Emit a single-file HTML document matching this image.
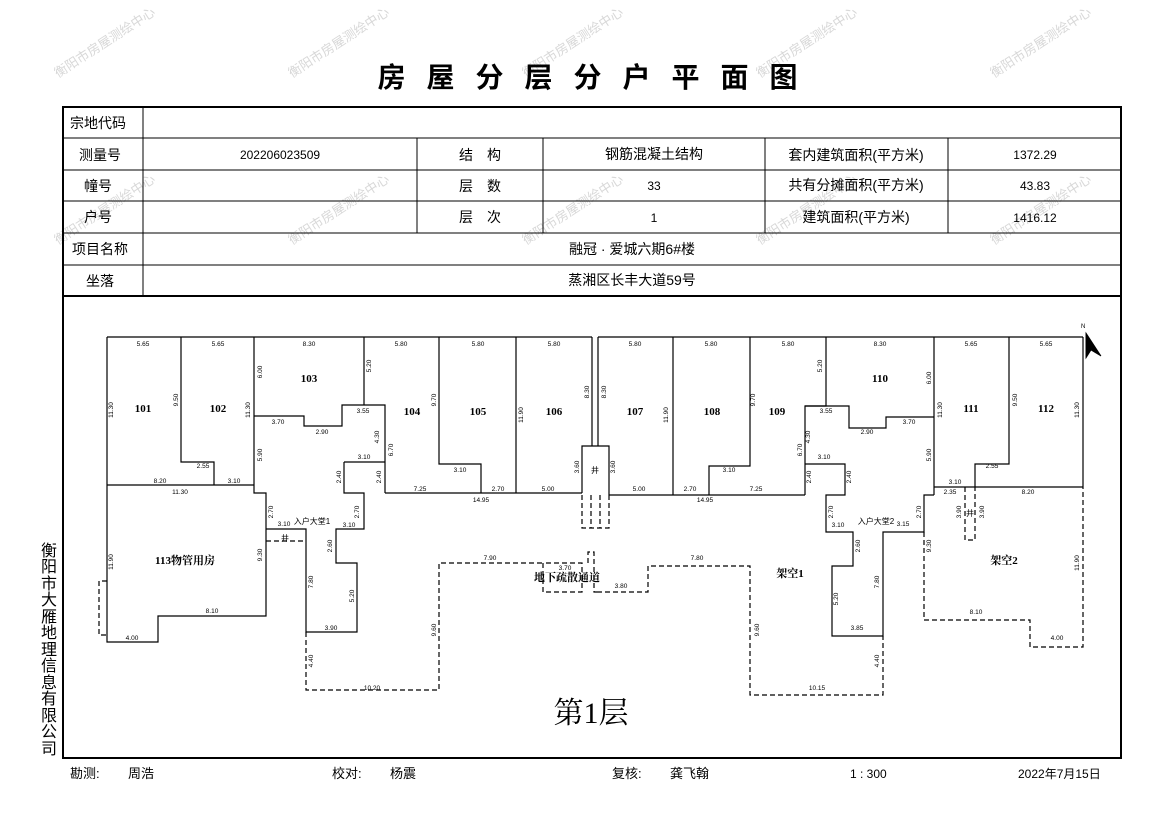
<!DOCTYPE html>
<html><head><meta charset="utf-8"><style>
body{margin:0;background:#fff;}
svg{display:block;font-family:"Liberation Sans","Noto Sans CJK SC",sans-serif;}
</style></head><body>
<svg width="1169" height="827" viewBox="0 0 1169 827" xmlns="http://www.w3.org/2000/svg">
<rect width="1169" height="827" fill="#fff"/>
<!-- watermarks -->
<g fill="#d8d8d8" font-size="13" font-family="Liberation Sans,Noto Sans CJK SC,sans-serif">
<text transform="translate(58,78) rotate(-33)">衡阳市房屋测绘中心</text>
<text transform="translate(292,78) rotate(-33)">衡阳市房屋测绘中心</text>
<text transform="translate(526,78) rotate(-33)">衡阳市房屋测绘中心</text>
<text transform="translate(760,78) rotate(-33)">衡阳市房屋测绘中心</text>
<text transform="translate(994,78) rotate(-33)">衡阳市房屋测绘中心</text>
<text transform="translate(58,245) rotate(-33)">衡阳市房屋测绘中心</text>
<text transform="translate(292,245) rotate(-33)">衡阳市房屋测绘中心</text>
<text transform="translate(526,245) rotate(-33)">衡阳市房屋测绘中心</text>
<text transform="translate(760,245) rotate(-33)">衡阳市房屋测绘中心</text>
<text transform="translate(994,245) rotate(-33)">衡阳市房屋测绘中心</text>
</g>
<!-- title -->
<text x="598" y="87" text-anchor="middle" font-size="28" font-weight="bold" letter-spacing="21">房屋分层分户平面图</text>
<!-- table -->
<g stroke="#000" fill="none">
<rect x="63" y="107" width="1058" height="651" stroke-width="2"/>
<line x1="63" y1="296" x2="1121" y2="296" stroke-width="2"/>
<g stroke-width="1">
<line x1="63" y1="138" x2="1121" y2="138"/>
<line x1="63" y1="170" x2="1121" y2="170"/>
<line x1="63" y1="201" x2="1121" y2="201"/>
<line x1="63" y1="233" x2="1121" y2="233"/>
<line x1="63" y1="265" x2="1121" y2="265"/>
<line x1="143" y1="107" x2="143" y2="296"/>
<line x1="417" y1="138" x2="417" y2="233"/>
<line x1="543" y1="138" x2="543" y2="233"/>
<line x1="765" y1="138" x2="765" y2="233"/>
<line x1="948" y1="138" x2="948" y2="233"/>
</g></g>
<g font-size="14" fill="#000" text-anchor="middle">
<text x="98" y="128">宗地代码</text>
<text x="100" y="160">测量号</text>
<text x="98" y="191">幢号</text>
<text x="98" y="222">户号</text>
<text x="100" y="254">项目名称</text>
<text x="100" y="286">坐落</text>
<text x="280" y="159" font-size="12">202206023509</text>
<text x="480" y="160">结　构</text>
<text x="480" y="191">层　数</text>
<text x="480" y="222">层　次</text>
<text x="654" y="159">钢筋混凝土结构</text>
<text x="654" y="190" font-size="12">33</text>
<text x="654" y="222" font-size="12">1</text>
<text x="856" y="160">套内建筑面积(平方米)</text>
<text x="856" y="190">共有分摊面积(平方米)</text>
<text x="856" y="222">建筑面积(平方米)</text>
<text x="1035" y="159" font-size="12">1372.29</text>
<text x="1035" y="190" font-size="12">43.83</text>
<text x="1035" y="222" font-size="12">1416.12</text>
<text x="632" y="254">融冠 · 爱城六期6#楼</text>
<text x="632" y="285">蒸湘区长丰大道59号</text>
</g>
<!-- left vertical company -->
<g font-size="16" text-anchor="middle" fill="#000">
<text x="49" y="556">衡</text><text x="49" y="572">阳</text><text x="49" y="589">市</text><text x="49" y="605">大</text><text x="49" y="622">雁</text><text x="49" y="638">地</text><text x="49" y="655">理</text><text x="49" y="671">信</text><text x="49" y="688">息</text><text x="49" y="704">有</text><text x="49" y="721">限</text><text x="49" y="737">公</text><text x="49" y="754">司</text>
</g>
<!-- plan solid -->
<g stroke="#000" stroke-width="1.2" fill="none">
<path d="M107,337 H592 M598,337 H1083"/>
<path d="M107,337 V642 H158 V616 H266 V493 H254 V337"/>
<path d="M107,485 H254"/>
<path d="M181,337 V462 H214 V485"/>
<path d="M254,416 H304 V426 H342 V405 H385 V493"/>
<path d="M364,337 V405"/>
<path d="M344,462 H385 M344,462 V493 H364 V529 H336 V563 H357 V632 H306 V529 H266"/>
<path d="M385,493 H582"/>
<path d="M439,337 V464 H481 V493 M516,337 V493 M592,337 V446 M598,337 V446"/>
<path d="M582,493 V446 H609 V495"/>
<path d="M609,495 H805 M673,337 V495 M750,337 V466 H709 V495"/>
<path d="M826,337 V406 H805 V495"/>
<path d="M805,464 H845 V495 H826 V532 H853 V566 H832 V636 H883 V532 H924 V495 H934"/>
<path d="M805,406 H849 V428 H886 V417 H934"/>
<path d="M934,337 V495 M934,487 H1083 M1083,337 V487"/>
<path d="M1009,337 V464 H975 V487"/>
</g>
<!-- plan dashed -->
<g stroke="#000" stroke-width="1.2" fill="none" stroke-dasharray="5,3">
<path d="M266,541 H306"/>
<path d="M306,632 V690 H439 V563 H543"/>
<path d="M107,581 H99 V635 H107"/>
<path d="M543,563 V592 H582 V563 H543 M588,563 V552 H594 V592 H597"/>
<path d="M597,592 H648 V566 H750 V695 H883 V636"/>
<path d="M924,532 V620 H1030 V647 H1083 V487"/>
<path d="M965,487 V540 H975 V487"/>
<path d="M582,495 V528 H609 V495 M591,495 V528 M600,495 V528"/>
</g>
<!-- room labels -->
<g font-size="11" font-weight="bold" text-anchor="middle" font-family="Liberation Serif,Noto Serif CJK SC,serif">
<text x="143" y="412">101</text><text x="218" y="412">102</text><text x="309" y="382">103</text>
<text x="412" y="415">104</text><text x="478" y="415">105</text><text x="554" y="415">106</text>
<text x="635" y="415">107</text><text x="712" y="415">108</text><text x="777" y="415">109</text>
<text x="880" y="382">110</text><text x="971" y="412">111</text><text x="1046" y="412">112</text>
<text x="185" y="564">113物管用房</text>
<text x="790" y="577">架空1</text><text x="1004" y="564">架空2</text>
<text x="567" y="581">地下疏散通道</text>
</g>
<g font-size="8" text-anchor="middle">
<text x="312" y="524">入户大堂1</text><text x="876" y="524">入户大堂2</text>
<text x="285" y="541">井</text><text x="970" y="516">井</text><text x="595" y="473">井</text>
</g>
<!-- dimensions -->
<g font-size="6.5" text-anchor="middle" fill="#000">
<text x="143" y="346">5.65</text><text x="218" y="346">5.65</text><text x="309" y="346">8.30</text>
<text x="401" y="346">5.80</text><text x="478" y="346">5.80</text><text x="554" y="346">5.80</text>
<text x="635" y="346">5.80</text><text x="711" y="346">5.80</text><text x="788" y="346">5.80</text>
<text x="880" y="346">8.30</text><text x="971" y="346">5.65</text><text x="1046" y="346">5.65</text>
<text x="160" y="483">8.20</text><text x="234" y="483">3.10</text><text x="203" y="468">2.55</text>
<text x="180" y="494">11.30</text><text x="278" y="424">3.70</text><text x="322" y="434">2.90</text>
<text x="363" y="413">3.55</text><text x="364" y="459">3.10</text><text x="420" y="491">7.25</text>
<text x="498" y="491">2.70</text><text x="481" y="502">14.95</text><text x="460" y="472">3.10</text>
<text x="548" y="491">5.00</text><text x="639" y="491">5.00</text><text x="690" y="491">2.70</text>
<text x="756" y="491">7.25</text><text x="705" y="502">14.95</text><text x="729" y="472">3.10</text>
<text x="824" y="459">3.10</text><text x="826" y="413">3.55</text><text x="867" y="434">2.90</text>
<text x="909" y="424">3.70</text><text x="955" y="484">3.10</text><text x="992" y="468">2.55</text>
<text x="1028" y="494">8.20</text><text x="950" y="494">2.35</text>
<text x="284" y="526">3.10</text><text x="349" y="527">3.10</text><text x="838" y="527">3.10</text><text x="903" y="526">3.15</text>
<text x="212" y="613">8.10</text><text x="132" y="640">4.00</text><text x="331" y="630">3.90</text><text x="857" y="630">3.85</text>
<text x="372" y="690">10.20</text><text x="817" y="690">10.15</text><text x="490" y="560">7.90</text><text x="697" y="560">7.80</text>
<text x="565" y="570">3.70</text><text x="621" y="588">3.80</text><text x="976" y="614">8.10</text><text x="1057" y="640">4.00</text>
</g>
<g font-size="6.5" text-anchor="middle">
<text transform="translate(113,410) rotate(-90)">11.30</text>
<text transform="translate(178,400) rotate(-90)">9.50</text>
<text transform="translate(250,410) rotate(-90)">11.30</text>
<text transform="translate(262,372) rotate(-90)">6.00</text>
<text transform="translate(371,366) rotate(-90)">5.20</text>
<text transform="translate(262,455) rotate(-90)">5.90</text>
<text transform="translate(379,437) rotate(-90)">4.30</text>
<text transform="translate(393,450) rotate(-90)">6.70</text>
<text transform="translate(436,400) rotate(-90)">9.70</text>
<text transform="translate(523,415) rotate(-90)">11.90</text>
<text transform="translate(589,392) rotate(-90)">8.30</text>
<text transform="translate(606,392) rotate(-90)">8.30</text>
<text transform="translate(579,467) rotate(-90)">3.60</text>
<text transform="translate(615,467) rotate(-90)">3.60</text>
<text transform="translate(341,477) rotate(-90)">2.40</text>
<text transform="translate(381,477) rotate(-90)">2.40</text>
<text transform="translate(273,512) rotate(-90)">2.70</text>
<text transform="translate(359,512) rotate(-90)">2.70</text>
<text transform="translate(332,546) rotate(-90)">2.60</text>
<text transform="translate(354,596) rotate(-90)">5.20</text>
<text transform="translate(313,582) rotate(-90)">7.80</text>
<text transform="translate(262,555) rotate(-90)">9.30</text>
<text transform="translate(113,562) rotate(-90)">11.90</text>
<text transform="translate(313,661) rotate(-90)">4.40</text>
<text transform="translate(436,630) rotate(-90)">9.60</text>
<text transform="translate(668,415) rotate(-90)">11.90</text>
<text transform="translate(755,400) rotate(-90)">9.70</text>
<text transform="translate(822,366) rotate(-90)">5.20</text>
<text transform="translate(810,437) rotate(-90)">4.30</text>
<text transform="translate(802,450) rotate(-90)">6.70</text>
<text transform="translate(811,477) rotate(-90)">2.40</text>
<text transform="translate(851,477) rotate(-90)">2.40</text>
<text transform="translate(833,512) rotate(-90)">2.70</text>
<text transform="translate(921,512) rotate(-90)">2.70</text>
<text transform="translate(860,546) rotate(-90)">2.60</text>
<text transform="translate(838,599) rotate(-90)">5.20</text>
<text transform="translate(879,582) rotate(-90)">7.80</text>
<text transform="translate(759,630) rotate(-90)">9.60</text>
<text transform="translate(879,661) rotate(-90)">4.40</text>
<text transform="translate(931,378) rotate(-90)">6.00</text>
<text transform="translate(942,410) rotate(-90)">11.30</text>
<text transform="translate(1017,400) rotate(-90)">9.50</text>
<text transform="translate(1079,410) rotate(-90)">11.30</text>
<text transform="translate(931,455) rotate(-90)">5.90</text>
<text transform="translate(931,546) rotate(-90)">9.30</text>
<text transform="translate(1079,563) rotate(-90)">11.90</text>
<text transform="translate(961,512) rotate(-90)">3.90</text>
<text transform="translate(984,512) rotate(-90)">3.90</text>
</g>
<!-- north arrow -->
<path d="M1086,333 L1101,356 L1091,350 L1086,358 Z" fill="#000" stroke="#000" stroke-width="0.8"/>
<path d="M1086,333 L1086,358" stroke="#000" stroke-width="0.8"/>
<text x="1081" y="328" font-size="6">N</text>
<!-- floor label -->
<text x="591" y="723" text-anchor="middle" font-size="30" font-family="Liberation Serif,Noto Serif CJK SC,serif">第1层</text>
<!-- footer -->
<g font-size="13">
<text x="70" y="778">勘测:</text><text x="128" y="778">周浩</text>
<text x="332" y="778">校对:</text><text x="390" y="778">杨震</text>
<text x="612" y="778">复核:</text><text x="670" y="778">龚飞翰</text>
<text x="850" y="778" font-size="12">1  :  300</text>
<text x="1018" y="778" font-size="12">2022年7月15日</text>
</g>
</svg>
</body></html>
